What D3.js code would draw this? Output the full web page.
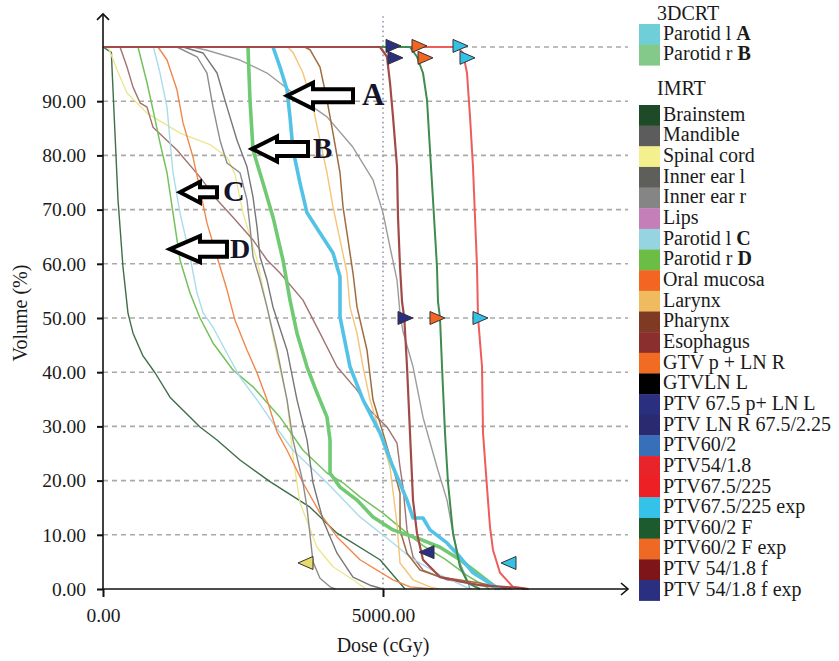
<!DOCTYPE html>
<html><head><meta charset="utf-8">
<script src="https://cdn.jsdelivr.net/npm/d3@7"></script>
<style>
body{margin:0;background:#fff}
svg{display:block}
</style>
</head><body><svg id="c" width="839" height="661"></svg>
<script>
// ---------- DATA ----------
const doseTicks = [0, 5000];
const volTicks = [0, 10, 20, 30, 40, 50, 60, 70, 80, 90];
const gridVol = [10, 20, 30, 40, 50, 60, 70, 80, 90, 100];
const gridDose = [5000];
const doseMax = 9375, volMax = 106.1;

// IMRT organ curves [dose cGy, volume %]
const brainstem = [[0,100],[150,99],[161,96.1],[214,84.1],[268,71.8],[357,59.4],[446,50.9],[536,47.2],[714,43],[929,39.9],[1196,35.4],[1732,29.9],[2036,27.5],[2446,23.8],[2982,19.8],[3696,15.1],[4179,10.3],[4946,5.4],[5393,0]];
const spinalCord = [[0,100],[89,100],[161,98.2],[250,95.8],[429,91.5],[786,87.8],[1375,84.1],[1911,82.0],[2214,79.7],[2357,76.5],[2500,69.4],[2750,60.7],[2929,52.0],[3107,43.0],[3286,34.9],[3393,24.4],[3518,15.9],[3821,7.7],[4107,4.1],[4464,1.7],[4700,0]];
const esophagus = [[0,100],[304,100],[429,96.3],[536,92.6],[661,89.7],[786,88.9],[893,85.2],[1321,81.0],[1732,76.0],[2036,71.8],[2321,68.6],[2679,64.4],[2929,60.7],[3161,58.3],[3571,53.3],[3875,47.2],[4179,41.0],[4536,36.7],[4768,33.0],[5071,29.9],[5250,26.9],[5304,22.5],[5357,18.8],[5429,10.9],[5536,5.9],[5714,3.5],[6143,1.7],[6732,0.7],[7200,0]];
const parotidRD = [[0,100],[625,100],[786,93.4],[893,88.4],[1018,82.3],[1143,76.8],[1250,69.4],[1375,60.7],[1554,54.6],[1732,50.0],[1964,45.4],[2321,40.4],[2679,37.3],[3161,31.7],[3571,25.6],[4000,21.4],[4286,19.6],[4589,17.0],[5000,14.0],[5357,10.9],[5714,8.0],[6107,5.5],[6500,2.5],[6900,0]];
const parotidLC = [[0,100],[900,100],[1018,95.2],[1143,88.9],[1196,82.8],[1250,76.8],[1375,69.4],[1554,61.3],[1679,54.6],[1786,51.0],[1964,48.3],[2214,43.5],[2446,39.1],[2750,34.9],[3036,30.6],[3393,25.6],[4000,19.6],[4589,13.3],[5179,8.5],[5482,5.9],[6018,2.6],[6554,0]];
const oralMucosa = [[0,100],[982,100],[1143,97.6],[1321,92.1],[1429,86],[1607,79.7],[1732,73.7],[1857,67.5],[2036,61.3],[2214,55.2],[2357,49.6],[2571,44.1],[2750,39.9],[2929,34.9],[3107,29],[3286,25.6],[3571,19.6],[3875,14],[4179,9.6],[4589,5.4],[5179,1.7],[5482,0.4],[5900,0]];
const mandible = [[0,100],[1321,100],[1679,98.2],[1857,95.2],[1964,88.9],[2089,82.8],[2214,78.6],[2446,76.8],[2571,71.8],[2625,66.8],[2679,61.3],[2804,57.0],[2929,52.0],[3107,44.1],[3286,34.9],[3393,27.5],[3571,19.6],[3643,15.0],[3750,5.0],[3875,2.0],[4054,0.4],[4150,0]];
const innerEarL = [[0,100],[1429,100],[1786,98.9],[2036,95.2],[2214,88.9],[2393,82.8],[2571,77.9],[2679,72.3],[2750,66.8],[2804,61.3],[2929,57.0],[3036,52.0],[3286,44.1],[3464,34.9],[3643,27.5],[3750,19.6],[3929,12.7],[4179,6.6],[4464,2.2],[4768,0.7],[5000,0]];
const innerEarR = [[0,100],[1600,100],[1857,99.4],[2446,97.6],[2929,95.2],[3393,91.5],[4000,87.1],[4464,81.5],[4821,75.5],[5000,69.4],[5125,63.1],[5250,57.0],[5304,50.9],[5357,47.5],[5536,41.0],[5714,31.7],[5964,22.5],[6143,16.4],[6250,10.3],[6321,7.2],[6375,4.8],[6500,1.7],[6554,0]];
const larynx = [[0,100],[3300,100],[3393,99],[3571,95.2],[3750,88.9],[3875,82.8],[4000,76.8],[4107,70.5],[4232,64.4],[4357,58.3],[4411,52.0],[4536,47.2],[4643,41.0],[4768,34.9],[4946,28.8],[5125,22.5],[5250,12],[5304,4.8],[5536,1.7],[5839,0.4],[6000,0]];
const pharynx = [[0,100],[3600,100],[3696,99.5],[3875,96.3],[4000,90.2],[4107,84.1],[4232,76.8],[4286,70.5],[4375,64.4],[4464,58.3],[4536,52.0],[4714,44.1],[4821,34.9],[5000,28.8],[5179,22.5],[5304,17.7],[5304,10.9],[5429,6.6],[5661,3.5],[6018,2.2],[6732,1.1],[7036,0.4],[7300,0]];
// 3DCRT parotids (thick)
const parotidLA3d = [[3036,100],[3161,96.3],[3286,92.1],[3339,87.1],[3393,81.0],[3518,74.9],[3643,69.4],[3875,65.7],[4107,62.0],[4232,57.6],[4232,50.2],[4411,41.0],[4643,34.9],[4946,28.8],[5179,22.5],[5429,16.4],[5536,13.1],[5714,13.1],[5839,10.9],[6143,8.5],[6375,5.9],[6607,3.0],[6964,0.7],[7089,0]];
const parotidRB3d = [[2589,100],[2625,90.2],[2679,81.0],[2857,74.9],[3036,68.6],[3214,60.7],[3339,53.3],[3464,47.2],[3643,41.0],[3821,36.2],[4000,31.7],[4054,27.5],[4054,21.4],[4232,18.8],[4536,16.4],[4821,13.3],[5179,10.9],[5482,9.8],[5661,9.2],[6018,7.7],[6375,5.4],[6679,3.0],[6964,0.7],[7036,0]];
// PTVs
const ptv675 = [[0,100],[6321,100],[6429,98.9],[6500,95.2],[6554,87.1],[6607,77.9],[6643,68.6],[6679,59.4],[6696,50.2],[6768,41.0],[6786,28.8],[6857,18.8],[6911,11.4],[6964,7.2],[7089,3.0],[7321,0.4],[7536,0]];
const ptv60F = [[0,100],[5482,100],[5607,98.2],[5714,95.2],[5786,90.2],[5839,81.0],[5893,71.8],[5964,59.4],[5982,53.0],[6018,50.0],[6054,41.0],[6107,28.8],[6161,19.6],[6250,10.3],[6375,4.1],[6518,1.1],[6732,0]];
const ptv54f = [[0,100],[4946,100],[5071,98.2],[5125,93.4],[5179,87.1],[5250,77.9],[5268,68.6],[5304,59.4],[5340,53.0],[5380,50.0],[5429,41.0],[5482,28.8],[5536,16.4],[5607,10.3],[5714,5.4],[6018,2.2],[6732,0.7],[7446,0.2],[7600,0]];

const curveData  = [brainstem, spinalCord, esophagus, parotidRD, parotidLC, oralMucosa, mandible, innerEarL, innerEarR, larynx, pharynx, parotidRB3d, parotidLA3d, ptv675, ptv60F, ptv54f];
const curveColor = ["#3f6e48","#ece68a","#a27272","#74c25c","#a9dcea","#f0874c","#8c8c8c","#767676","#9c9c9c","#f4c478","#a06c3e","#6fca72","#52c3e6","#ee5c5c","#3e8c4e","#a24a48"];
const curveWidth = [1.4,1.3,1.4,1.5,1.4,1.4,1.4,1.4,1.4,1.4,1.5,3.6,3.6,2,2,2.2];

// expected-dose markers
const markerDose = [5179,5214,5393,5786,5643,5750,5964,6375,6500,6732,7250,3625];
const markerVol  = [100.2,98.0,50.0,6.8,100.2,98.0,50.0,100.2,98.0,50.0,4.8,4.8];
const markerColor= ["#2a2f80","#2a2f80","#2a2f80","#2a2f80","#f26522","#f26522","#f26522","#35c0e6","#35c0e6","#35c0e6","#35c0e6","#e6dc6a"];
const markerDir  = [1,1,1,-1,1,1,1,1,1,1,-1,-1];

// annotation arrows
const annoLabel = ["A","B","C","D"];
const annoDose  = [3286, 2661, 1375, 1196];
const annoVol   = [91.0, 81.2, 73.2, 62.7];

// legend
const legend3dNames = ["Parotid l ", "Parotid r "];
const legend3dTags  = ["A", "B"];
const legend3dColors= ["#6fcfd9", "#85c98a"];
const imrtNames = ["Brainstem","Mandible","Spinal cord","Inner ear l","Inner ear r","Lips","Parotid l ","Parotid r ","Oral mucosa","Larynx","Pharynx","Esophagus","GTV p + LN R","GTVLN L","PTV 67.5 p+ LN L","PTV LN R 67.5/2.25","PTV60/2","PTV54/1.8","PTV67.5/225","PTV67.5/225 exp","PTV60/2 F","PTV60/2 F exp","PTV 54/1.8 f","PTV 54/1.8 f exp"];
const imrtTags  = ["","","","","","","C","D","","","","","","","","","","","","","","","",""];
const imrtColors= ["#1e4a28","#5c5c5c","#f4f08e","#5e5e5a","#858585","#c47fb8","#95d4e0","#6bbd46","#f26522","#f0ba5e","#7e3a22","#8a2e2e","#f26b22","#000000","#2b2f80","#2a2a70","#3770b8","#e8242a","#ed2025","#35c2e8","#1d5a2e","#ee6a24","#7e1518","#2b2f80"];

// ---------- DRAW ----------
const FONT = "'Liberation Serif', 'DejaVu Serif', serif";
const svg = d3.select("#c").attr("font-family", FONT);
svg.append("rect").attr("width",839).attr("height",661).attr("fill","#fff");
const x = d3.scaleLinear().domain([0,5000]).range([103,383]);
const y = d3.scaleLinear().domain([0,100]).range([589,47]);

// grid
svg.append("g").selectAll("line").data(gridVol).join("line")
  .attr("x1",x(0)).attr("x2",x(doseMax)).attr("y1",d=>y(d)).attr("y2",d=>y(d))
  .attr("stroke","#a9a9a9").attr("stroke-width",1.6).attr("stroke-dasharray","5,4");
svg.append("g").selectAll("line").data(gridDose).join("line")
  .attr("x1",d=>x(d)).attr("x2",d=>x(d)).attr("y1",y(0)).attr("y2",y(volMax))
  .attr("stroke","#a4a4b8").attr("stroke-width",1.8).attr("stroke-dasharray","1.6,3.2");

// curves
const line = d3.line().x(d=>x(d[0])).y(d=>y(d[1]));
svg.append("g").attr("fill","none").attr("stroke-linejoin","round")
  .selectAll("path").data(curveData).join("path")
  .attr("d",line).attr("stroke",(d,i)=>curveColor[i]).attr("stroke-width",(d,i)=>curveWidth[i]);

// markers
const mk = svg.append("g");
markerDose.forEach((d,i)=>{
  const s = markerDir[i];
  mk.append("path")
    .attr("transform",`translate(${x(d)},${y(markerVol[i])})`)
    .attr("d",`M${-7*s},-6.5L${8*s},0L${-7*s},6.5Z`)
    .attr("fill",markerColor[i]).attr("stroke","#333").attr("stroke-width",1);
});

// axes
const gy = svg.append("g").attr("transform",`translate(${x(0)},0)`)
  .call(d3.axisLeft(y).tickValues(volTicks).tickFormat(d3.format(".2f")).tickSize(6).tickPadding(11));
gy.attr("font-family", FONT).attr("font-size", null);
gy.select(".domain").remove();
gy.selectAll(".tick line").attr("stroke","#111").attr("stroke-width",2);
gy.selectAll("text").attr("font-family", FONT).style("font-family", FONT).style("font-size","19.5px").attr("fill","#1a1a1a");
const gx = svg.append("g").attr("transform",`translate(0,${y(0)})`)
  .call(d3.axisBottom(x).tickValues(doseTicks).tickFormat(d3.format(".2f")).tickSize(8).tickPadding(11));
gx.attr("font-family", FONT).attr("font-size", null);
gx.select(".domain").remove();
gx.selectAll(".tick line").attr("stroke","#111").attr("stroke-width",2);
gx.selectAll("text").attr("font-family", FONT).style("font-family", FONT).style("font-size","19.5px").attr("fill","#1a1a1a");

const ax = svg.append("g").attr("stroke","#111").attr("fill","none").attr("stroke-width",1.6);
ax.append("line").attr("x1",x(0)).attr("x2",x(0)).attr("y1",y(0)).attr("y2",y(volMax));
ax.append("path").attr("d",`M${x(0)-6},${y(volMax)+6}L${x(0)},${y(volMax)}L${x(0)+6},${y(volMax)+6}`);
ax.append("line").attr("x1",x(0)).attr("x2",x(doseMax)).attr("y1",y(0)).attr("y2",y(0));
ax.append("path").attr("d",`M${x(doseMax)-7},${y(0)-6}L${x(doseMax)},${y(0)}L${x(doseMax)-7},${y(0)+6}`);

// axis titles
svg.append("text").attr("x",383).attr("y",652).attr("text-anchor","middle")
  .style("font-family",FONT).style("font-size","20px").attr("fill","#1a1a1a").text("Dose (cGy)");
svg.append("text").attr("transform","translate(27,313) rotate(-90)").attr("text-anchor","middle")
  .style("font-family",FONT).style("font-size","20px").attr("fill","#1a1a1a").text("Volume (%)");

// annotation arrows
const annoGeom = [
  {hl:26,hh:13,bh:6.5,L:66,fs:31,gap:9},
  {hl:25,hh:12.5,bh:7,L:56,fs:29,gap:5},
  {hl:20,hh:10.5,bh:5,L:37,fs:30,gap:6},
  {hl:30,hh:13,bh:7.5,L:57,fs:28,gap:3}
];
const an = svg.append("g");
annoLabel.forEach((lab,i)=>{
  const g = annoGeom[i], tx = x(annoDose[i]), ty = y(annoVol[i]);
  an.append("path")
    .attr("d",`M${tx},${ty}L${tx+g.hl},${ty-g.hh}L${tx+g.hl},${ty-g.bh}L${tx+g.L},${ty-g.bh}L${tx+g.L},${ty+g.bh}L${tx+g.hl},${ty+g.bh}L${tx+g.hl},${ty+g.hh}Z`)
    .attr("fill","#fff").attr("stroke","#000").attr("stroke-width",4).attr("stroke-linejoin","miter");
  an.append("text").attr("x",tx+g.L+g.gap).attr("y",ty+g.fs*0.3)
    .style("font-family",FONT).style("font-size",g.fs+"px").style("font-weight","bold").attr("fill","#14142a").text(lab);
});

// legend
const lg = svg.append("g");
const rowH = 20.65;
lg.append("text").attr("x",657).attr("y",20).style("font-family",FONT).style("font-size","20px").attr("fill","#1a1a1a").text("3DCRT");
lg.append("text").attr("x",657).attr("y",95).style("font-family",FONT).style("font-size","20px").attr("fill","#1a1a1a").text("IMRT");
function legendRows(names,tags,colors,top){
  names.forEach((n,i)=>{
    const ry = top + i*rowH;
    lg.append("rect").attr("x",639).attr("y",ry).attr("width",21).attr("height",rowH+0.3).attr("fill",colors[i]);
    const t = lg.append("text").attr("x",663).attr("y",ry+15.8)
      .style("font-family",FONT).style("font-size","20px").attr("fill","#1a1a1a");
    t.append("tspan").text(n);
    if (tags[i]) t.append("tspan").style("font-weight","bold").text(tags[i]);
  });
}
legendRows(legend3dNames,legend3dTags,legend3dColors,24);
legendRows(imrtNames,imrtTags,imrtColors,105);
</script>
</body></html>
